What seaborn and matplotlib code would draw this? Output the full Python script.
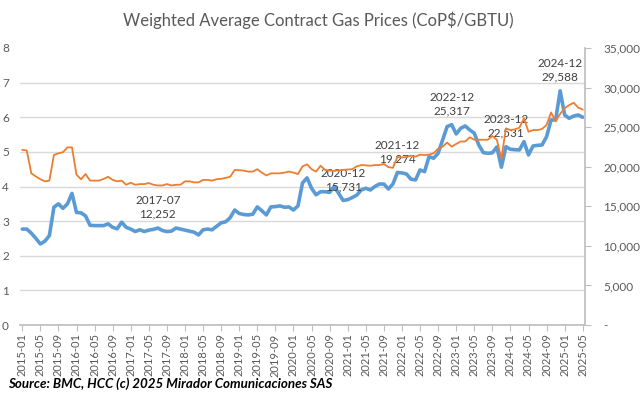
import numpy as np
import pandas as pd
import seaborn as sns
import matplotlib.pyplot as plt
from matplotlib.ticker import FuncFormatter

# DATA
months = list(pd.period_range("2015-01", "2025-05", freq="M").strftime("%Y-%m"))

# blue series, CoP$/GBTU (right axis)
cop_gbtu = [
    12120, 12120, 11600, 10950, 10240, 10590, 11290, 14880, 15310, 14740, 15310, 16630,
    14220, 14180, 13780, 12600, 12560, 12560, 12560, 12780, 12340, 12160, 12990, 12340,
    12120, 11810, 12030, 11810, 11990, 12080, 12252, 11940, 11810, 11860, 12250, 12120,
    11990, 11860, 11730, 11380, 12030, 12120, 12030, 12470, 12910, 13040, 13560, 14530,
    14090, 13960, 13910, 14000, 14920, 14440, 13910, 14920, 14960, 15050, 14880, 14920,
    14530, 15050, 17940, 18590, 17280, 16450, 16840, 16840, 16760, 17500, 16630, 15731,
    15840, 16100, 16410, 17060, 17280, 17060, 17500, 17810, 17810, 17190, 17810, 19274,
    19220, 19080, 18420, 18330, 19590, 19380, 21270, 21070, 21700, 23380, 25070, 25317,
    24140, 24860, 25150, 24650, 24230, 22750, 21780, 21700, 21750, 22500, 19930, 22531,
    22200, 22150, 22120, 23170, 21490, 22620, 22700, 22750, 23800, 25910, 25910, 29588,
    26540, 26120, 26400, 26540, 26250,
]

# orange series (left axis)
left_price = [
    5.06, 5.04, 4.38, 4.29, 4.21, 4.15, 4.17, 4.91, 4.96, 4.99, 5.13, 5.13,
    4.34, 4.21, 4.36, 4.17, 4.17, 4.17, 4.22, 4.28, 4.19, 4.15, 4.17, 4.05,
    4.11, 4.05, 4.07, 4.07, 4.10, 4.05, 4.03, 4.03, 4.07, 4.03, 4.05, 4.05,
    4.15, 4.15, 4.12, 4.12, 4.19, 4.19, 4.17, 4.21, 4.22, 4.25, 4.28, 4.48,
    4.47, 4.46, 4.43, 4.43, 4.50, 4.40, 4.32, 4.38, 4.38, 4.38, 4.40, 4.43,
    4.40, 4.36, 4.58, 4.64, 4.50, 4.43, 4.60, 4.48, 4.46, 4.45, 4.47, 4.48,
    4.49, 4.50, 4.58, 4.62, 4.61, 4.60, 4.62, 4.62, 4.65, 4.56, 4.54, 4.85,
    4.84, 4.85, 4.89, 4.86, 4.92, 4.91, 4.92, 4.96, 5.09, 5.15, 5.27, 5.15,
    5.23, 5.30, 5.30, 5.42, 5.35, 5.35, 5.35, 5.35, 5.46, 5.35, 4.80, 5.68,
    5.63, 5.65, 5.70, 5.97, 5.58, 5.63, 5.63, 5.66, 5.78, 6.14, 5.88, 6.10,
    6.26, 6.35, 6.42, 6.28, 6.22,
]

label_months = ["2017-07", "2020-12", "2021-12", "2022-12", "2023-12", "2024-12"]

df = pd.DataFrame({
    "idx": np.arange(len(months)),
    "month": months,
    "cop": cop_gbtu,
    "left": left_price,
})

sns.set_theme(style="white")
plt.rcParams["font.family"] = ["Lato", "DejaVu Sans"]

GRAY_TXT = "#595959"
GRID = "#D9D9D9"
BLUE = "#5B9BD5"
ORANGE = "#ED7D31"

fig = plt.figure(figsize=(6.42, 3.96), dpi=100)
# primary axes: blue on right scale (drawn below orange and labels under orange)
ax = fig.add_axes([20 / 642, 1 - 325 / 396, 565 / 642, 277 / 396])
ax2 = ax.twinx()

sns.lineplot(data=df, x="idx", y="cop", ax=ax, color=BLUE, linewidth=2.6, legend=False)
sns.lineplot(data=df, x="idx", y="left", ax=ax2, color=ORANGE, linewidth=1.3, legend=False)

ax.set_xlim(-0.5, len(months) - 0.5)
ax.set_ylim(0, 35000)
ax2.set_ylim(0, 8)

# right axis for blue
ax.yaxis.tick_right()
ax.yaxis.set_label_position("right")
ax.set_yticks(np.arange(0, 35001, 5000))
ax.yaxis.set_major_formatter(FuncFormatter(lambda v, p: "-" if v == 0 else f"{v:,.0f}"))
ax.tick_params(axis="y", which="major", length=4, width=0.8, color="#BFBFBF",
               labelsize=8.5, labelcolor=GRAY_TXT, pad=9)

# horizontal gridlines follow the left scale (0..8)
ax.set_yticks(np.arange(0, 35001, 35000 / 8), minor=True)
ax.tick_params(axis="y", which="minor", length=0)
ax.grid(which="minor", axis="y", color=GRID, linewidth=1)
ax.grid(which="major", axis="y", visible=False)

# left axis for orange
ax2.yaxis.tick_left()
ax2.yaxis.set_label_position("left")
ax2.set_yticks(range(0, 9))
ax2.tick_params(axis="y", length=0, labelsize=8.5, labelcolor=GRAY_TXT, pad=8)

# x axis
ax.set_xticks(df["idx"][::4])
ax.set_xticklabels(df["month"][::4], rotation=90)
ax.tick_params(axis="x", length=4, width=0.8, color="#BFBFBF", labelsize=8,
               labelcolor=GRAY_TXT, pad=2, bottom=True)

for a in (ax, ax2):
    a.set_xlabel("")
    a.set_ylabel("")
    for s in a.spines.values():
        s.set_visible(False)
ax.spines["bottom"].set_visible(True)
ax.spines["bottom"].set_color("#BFBFBF")
ax.spines["right"].set_visible(True)
ax.spines["right"].set_color("#BFBFBF")

# data labels
for m in label_months:
    i = months.index(m)
    v = cop_gbtu[i]
    ax.annotate(f"{m}\n{v:,.0f}", (i, v), xytext=(0, 6), textcoords="offset points",
                ha="center", va="bottom", fontsize=8.5, color="#404040", linespacing=1.25)

fig.text(318 / 642, 1 - 20 / 396, "Weighted Average Contract Gas Prices (CoP$/GBTU)",
         ha="center", va="center", fontsize=12, color=GRAY_TXT)
fig.text(8 / 642, 1 - 384 / 396, "Source: BMC, HCC (c) 2025 Mirador Comunicaciones SAS",
         ha="left", va="center", fontsize=9.6, fontweight="bold", fontstyle="italic", color="black")

fig.savefig("out.png", dpi=100)
